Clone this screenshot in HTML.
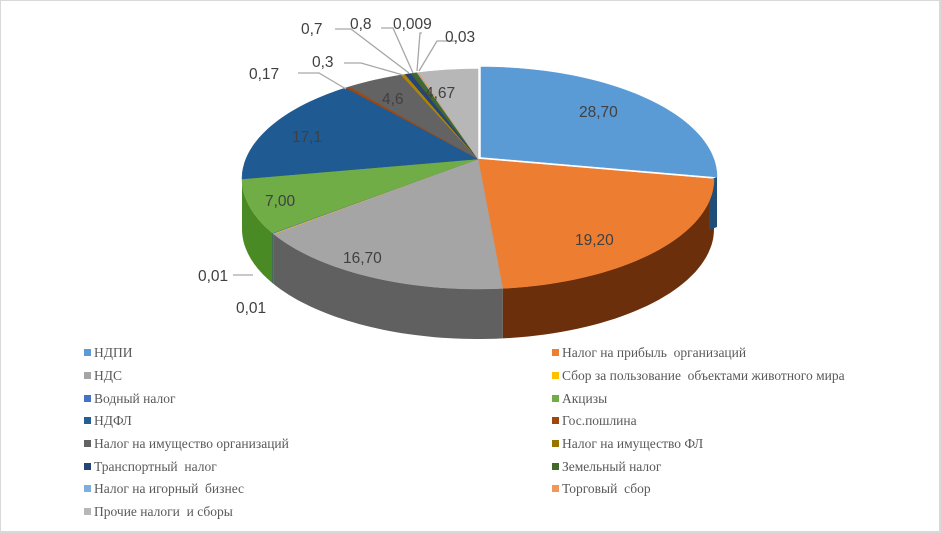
<!DOCTYPE html>
<html><head><meta charset="utf-8"><style>
html,body{margin:0;padding:0;background:#fff}
#w{position:relative;width:941px;height:533px;overflow:hidden;background:#fff;box-sizing:border-box;border:2px solid #d9d9d9;border-left:1px solid #d9d9d9;border-top:1px solid #d9d9d9}
svg{position:absolute;left:0;top:0}
.lg{position:absolute;font-family:"Liberation Serif",serif;font-size:13.5px;color:#595959;white-space:pre;line-height:16px}
.lg i{display:inline-block;width:7px;height:7px;margin-right:3px;vertical-align:1px}
</style></head><body><div id="w">
<svg id="s" width="941" height="533" xmlns="http://www.w3.org/2000/svg"></svg>
<div class="lg" style="left:83px;top:344px"><i style="background:#5b9bd5"></i>НДПИ</div>
<div class="lg" style="left:83px;top:367px"><i style="background:#a5a5a5"></i>НДС</div>
<div class="lg" style="left:83px;top:390px"><i style="background:#4472c4"></i>Водный налог</div>
<div class="lg" style="left:83px;top:412px"><i style="background:#255e91"></i>НДФЛ</div>
<div class="lg" style="left:83px;top:435px"><i style="background:#636363"></i>Налог на имущество организаций</div>
<div class="lg" style="left:83px;top:458px"><i style="background:#264478"></i>Транспортный  налог</div>
<div class="lg" style="left:83px;top:480px"><i style="background:#7cafdd"></i>Налог на игорный  бизнес</div>
<div class="lg" style="left:83px;top:503px"><i style="background:#b7b7b7"></i>Прочие налоги  и сборы</div>
<div class="lg" style="left:551px;top:344px"><i style="background:#ed7d31"></i>Налог на прибыль  организаций</div>
<div class="lg" style="left:551px;top:367px"><i style="background:#ffc000"></i>Сбор за пользование  объектами животного мира</div>
<div class="lg" style="left:551px;top:390px"><i style="background:#70ad47"></i>Акцизы</div>
<div class="lg" style="left:551px;top:412px"><i style="background:#9e480e"></i>Гос.пошлина</div>
<div class="lg" style="left:551px;top:435px"><i style="background:#997300"></i>Налог на имущество ФЛ</div>
<div class="lg" style="left:551px;top:458px"><i style="background:#43682b"></i>Земельный налог</div>
<div class="lg" style="left:551px;top:480px"><i style="background:#f1975a"></i>Торговый  сбор</div>
</div>
<script>
var S=document.getElementById('s'),NS='http://www.w3.org/2000/svg';
function el(t,a){var e=document.createElementNS(NS,t);for(var k in a)e.setAttribute(k,a[k]);S.appendChild(e);return e;}
var d=[[90,'#5b9bd5','#2e6da4'],[174,'#ed7d31','#6b2f0c'],[240,'#a5a5a5','#606060'],[240.3,'#ffc000','#806000'],[240.6,'#4472c4','#223a66'],[270,'#70ad47','#4a8a25'],[326,'#1f5a92','#143c63'],[327,'#9e480e','#5a2807'],[341,'#636363','#3a3a3a'],[342,'#b08400','#604800'],[343.5,'#264478','#152748'],[345,'#43682b','#2a4419'],[345.2,'#7cafdd','#4a7fa8'],[345.5,'#f1975a','#8a5030'],[360,'#b7b7b7','#7a7a7a']];
var cx=477,cy=178,rx=236,ry=110,ax=477,ay=158,D=50,R=Math.PI/180;
function P(a,dx,dy){return [cx+dx+rx*Math.sin(a),cy+dy-ry*Math.cos(a)];}
var a0=0,sl=[];
d.forEach(function(x,i){var a1=x[0]*R;var o=i==0?[3,-2]:[0,0];sl.push([a0,a1,x,o]);a0=a1;});
sl.forEach(function(s){var lo=Math.max(s[0],Math.PI/2),hi=Math.min(s[1],1.5*Math.PI);if(hi<=lo)return;
 var pts=[],n=40;for(var k=0;k<=n;k++){pts.push(P(lo+(hi-lo)*k/n,s[3][0],s[3][1]));}
 var str=pts.map(function(p){return p[0].toFixed(1)+','+p[1].toFixed(1)}).join(' ');
 var str2=pts.slice().reverse().map(function(p){return p[0].toFixed(1)+','+(p[1]+D).toFixed(1)}).join(' ');
 el('polygon',{points:str+' '+str2,fill:s[2][2]});});
(function(){var s=sl[0],p=P(s[1],3,-2);el('polygon',{points:(p[0]-8)+','+(p[1]+3)+' '+p[0]+','+p[1]+' '+p[0]+','+(p[1]+D)+' '+(p[0]-8)+','+(p[1]+D+3),fill:'#1f4e79'});})();
sl.slice(1).concat([sl[0]]).forEach(function(s){var pts=[[ax+s[3][0],ay+s[3][1]]],n=Math.max(2,Math.ceil((s[1]-s[0])*40));
 for(var k=0;k<=n;k++)pts.push(P(s[0]+(s[1]-s[0])*k/n,s[3][0],s[3][1]));
 el('polygon',{points:pts.map(function(p){return p[0].toFixed(1)+','+p[1].toFixed(1)}).join(' '),fill:s[2][1],stroke:s[2][1],'stroke-width':0.5});});
var L=[[[232,274],[252,274]],[[297,72],[318,72],[345,88]],[[343,62],[360,62],[402,74]],[[334,28],[350,28],[408,72]],[[380,27],[392,27],[412,72]],[[421,32],[419,32],[416,70]],[[456,40],[436,40],[418,70]]];
L.forEach(function(l){el('polyline',{points:l.map(function(p){return p.join(',')}).join(' '),fill:'none',stroke:'#a6a6a6','stroke-width':1.3});});
var T=[['28,70',578,116],['19,20',574,244],['16,70',342,262],['7,00',264,205],['17,1',291,141],['4,6',381,103],['4,67',424,97],['0,01',197,280],['0,01',235,312],['0,17',248,78],['0,3',311,66],['0,7',300,33],['0,8',349,28],['0,009',392,28],['0,03',444,41]];
T.forEach(function(t){var e=el('text',{x:t[1],y:t[2],'font-family':'Liberation Sans, sans-serif','font-size':15.5,fill:'#404040'});e.textContent=t[0];});
</script>
</body></html>
